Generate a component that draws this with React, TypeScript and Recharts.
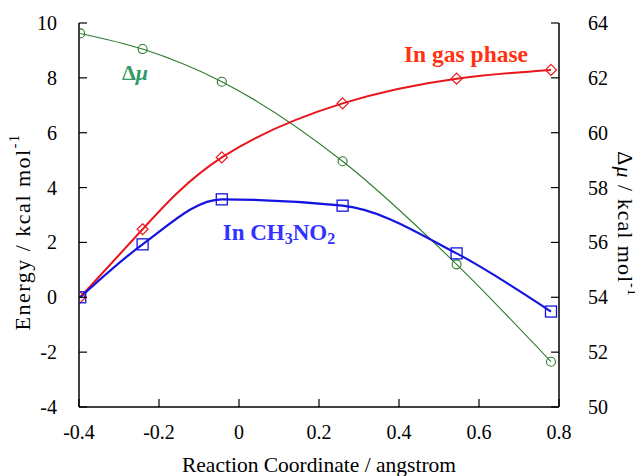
import React from 'react';
import { LineChart, Line, XAxis, YAxis, ReferenceDot, Label } from 'recharts';

const coords = [-0.397, -0.241, -0.043, 0.259, 0.544, 0.78];
const gasPhase = [0, 2.48, 5.1, 7.07, 7.97, 8.29];
const inCH3NO2 = [0, 1.93, 3.57, 3.34, 1.6, -0.52];
const deltaMu = [63.62, 63.05, 61.86, 58.96, 55.2, 51.65];
const xTicks = [-0.4, -0.2, 0, 0.2, 0.4, 0.6, 0.8];
const energyTicks = [-4, -2, 0, 2, 4, 6, 8, 10];
const muTicks = [50, 52, 54, 56, 58, 60, 62, 64];

const data = coords.map((x, i) => ({ x, gas: gasPhase[i], ch3no2: inCH3NO2[i], dmu: deltaMu[i] }));

const FONT = "'Liberation Serif', 'Times New Roman', serif";
const TICK = 8;
const RED = '#e8161b';
const BLUE = '#1414e0';
const GREEN = '#2b7a2b';

const BottomTick = (p: any) => (
  <g>
    <line x1={p.x} y1={p.y} x2={p.x} y2={p.y - TICK} stroke="#000" strokeWidth={1.2} />
    <text x={p.x} y={p.y + 25} textAnchor="middle" dominantBaseline="central" fontFamily={FONT} fontSize={20} fill="#000">
      {p.payload.value}
    </text>
  </g>
);
const TopTick = (p: any) => (
  <line x1={p.x} y1={p.y} x2={p.x} y2={p.y + TICK} stroke="#000" strokeWidth={1.2} />
);
const LeftTick = (p: any) => (
  <g>
    <line x1={p.x} y1={p.y} x2={p.x + TICK} y2={p.y} stroke="#000" strokeWidth={1.2} />
    <text x={p.x - 22} y={p.y} textAnchor="end" dominantBaseline="central" fontFamily={FONT} fontSize={20} fill="#000">
      {p.payload.value}
    </text>
  </g>
);
const RightTick = (p: any) => (
  <g>
    <line x1={p.x} y1={p.y} x2={p.x - TICK} y2={p.y} stroke="#000" strokeWidth={1.2} />
    <text x={p.x + 29} y={p.y} textAnchor="start" dominantBaseline="central" fontFamily={FONT} fontSize={20} fill="#000">
      {p.payload.value}
    </text>
  </g>
);

const Diamond = (p: any) => {
  const { cx, cy } = p;
  const s = 5.5;
  return (
    <path key={`d${p.index}`} d={`M${cx},${cy - s}L${cx + s},${cy}L${cx},${cy + s}L${cx - s},${cy}Z`} fill="none" stroke={RED} strokeWidth={1.2} />
  );
};
const Square = (p: any) => {
  const { cx, cy } = p;
  const s = 5.5;
  return <rect key={`s${p.index}`} x={cx - s} y={cy - s} width={2 * s} height={2 * s} fill="none" stroke={BLUE} strokeWidth={1.3} />;
};
const Circle = (p: any) => {
  const { cx, cy } = p;
  return <circle key={`c${p.index}`} cx={cx} cy={cy} r={4.5} fill="none" stroke={GREEN} strokeWidth={1.1} />;
};

const XTitle = (p: any) => {
  const vb = p.viewBox;
  return (
    <text x={vb.x + vb.width / 2} y={vb.y + 58} textAnchor="middle" dominantBaseline="central" fontFamily={FONT} fontSize={21.5} fill="#000">
      Reaction Coordinate / angstrom
    </text>
  );
};
const LeftTitle = (p: any) => {
  const vb = p.viewBox;
  const cx = vb.x + 14;
  const cy = vb.y + vb.height / 2 + 17;
  return (
    <text x={cx} y={cy} transform={`rotate(-90, ${cx}, ${cy})`} textAnchor="middle" dominantBaseline="central" fontFamily={FONT} fontSize={22} letterSpacing={1.5} fill="#000">
      Energy / kcal mol<tspan dy={-8} fontSize={14}>-1</tspan>
    </text>
  );
};
const RightTitle = (p: any) => {
  const vb = p.viewBox;
  const cx = vb.x + 66;
  const cy = vb.y + vb.height / 2 + 9;
  return (
    <text x={cx} y={cy} transform={`rotate(90, ${cx}, ${cy})`} textAnchor="middle" dominantBaseline="central" fontFamily={FONT} fontSize={22} letterSpacing={1} fill="#000">
      Δ<tspan fontStyle="italic">μ</tspan> / kcal mol<tspan dy={-8} fontSize={14}>-1</tspan>
    </text>
  );
};

const center = (vb: any) => ({ x: vb.x + (vb.width || 0) / 2, y: vb.y + (vb.height || 0) / 2 });

const GasLabel = (p: any) => {
  const c = center(p.viewBox);
  return (
    <text x={c.x} y={c.y} textAnchor="middle" dominantBaseline="central" fontFamily={FONT} fontWeight="bold" fontSize={23.5} fill="#ff3311">
      In gas phase
    </text>
  );
};
const SolvLabel = (p: any) => {
  const c = center(p.viewBox);
  return (
    <text x={c.x} y={c.y} textAnchor="middle" dominantBaseline="central" fontFamily={FONT} fontWeight="bold" fontSize={23} fill="#3333ff">
      In CH<tspan dy={6} fontSize={16}>3</tspan><tspan dy={-6}>NO</tspan><tspan dy={6} fontSize={16}>2</tspan>
    </text>
  );
};
const MuLabel = (p: any) => {
  const c = center(p.viewBox);
  return (
    <text x={c.x} y={c.y} textAnchor="middle" dominantBaseline="central" fontFamily={FONT} fontWeight="bold" fontSize={22} fill="#339966">
      Δ<tspan fontStyle="italic">μ</tspan>
    </text>
  );
};

export default function App() {
  return (
    <div style={{ width: 635, height: 468 }}>
      <LineChart width={635} height={468} data={data} margin={{ top: 15, right: 0, bottom: 8, left: 0 }}>
        <XAxis
          dataKey="x"
          type="number"
          domain={[-0.4, 0.8]}
          ticks={xTicks}
          allowDataOverflow
          height={61}
          tickSize={0}
          tickMargin={0}
          tickLine={false}
          axisLine={{ stroke: '#000', strokeWidth: 1.5 }}
          tick={BottomTick}
          interval={0}
        >
          <Label content={XTitle} />
        </XAxis>
        <XAxis
          xAxisId="top"
          orientation="top"
          dataKey="x"
          type="number"
          domain={[-0.4, 0.8]}
          ticks={xTicks}
          allowDataOverflow
          height={0}
          tickSize={0}
          tickMargin={0}
          tickLine={false}
          axisLine={{ stroke: '#000', strokeWidth: 1.5 }}
          tick={TopTick}
          interval={0}
        />
        <YAxis
          yAxisId="left"
          domain={[-4, 10]}
          ticks={energyTicks}
          allowDataOverflow
          width={71}
          tickSize={0}
          tickMargin={0}
          tickLine={false}
          axisLine={{ stroke: '#000', strokeWidth: 1.5 }}
          tick={LeftTick}
          interval={0}
        >
          <Label content={LeftTitle} />
        </YAxis>
        <YAxis
          yAxisId="right"
          orientation="right"
          domain={[50, 64]}
          ticks={muTicks}
          allowDataOverflow
          width={84}
          tickSize={0}
          tickMargin={0}
          tickLine={false}
          axisLine={{ stroke: '#000', strokeWidth: 1.5 }}
          tick={RightTick}
          interval={0}
        >
          <Label content={RightTitle} />
        </YAxis>
        <Line yAxisId="right" dataKey="dmu" type="monotone" stroke={GREEN} strokeWidth={1.1} dot={Circle} isAnimationActive={false} />
        <Line yAxisId="left" dataKey="gas" type="natural" stroke={RED} strokeWidth={2} dot={Diamond} isAnimationActive={false} />
        <Line yAxisId="left" dataKey="ch3no2" type="monotone" stroke={BLUE} strokeWidth={2.2} dot={Square} isAnimationActive={false} />
        <ReferenceDot yAxisId="left" x={0.5675} y={8.87} r={1} fill="none" stroke="none" label={GasLabel} />
        <ReferenceDot yAxisId="left" x={0.1} y={2.38} r={1} fill="none" stroke="none" label={SolvLabel} />
        <ReferenceDot yAxisId="left" x={-0.26} y={8.21} r={1} fill="none" stroke="none" label={MuLabel} />
      </LineChart>
    </div>
  );
}
